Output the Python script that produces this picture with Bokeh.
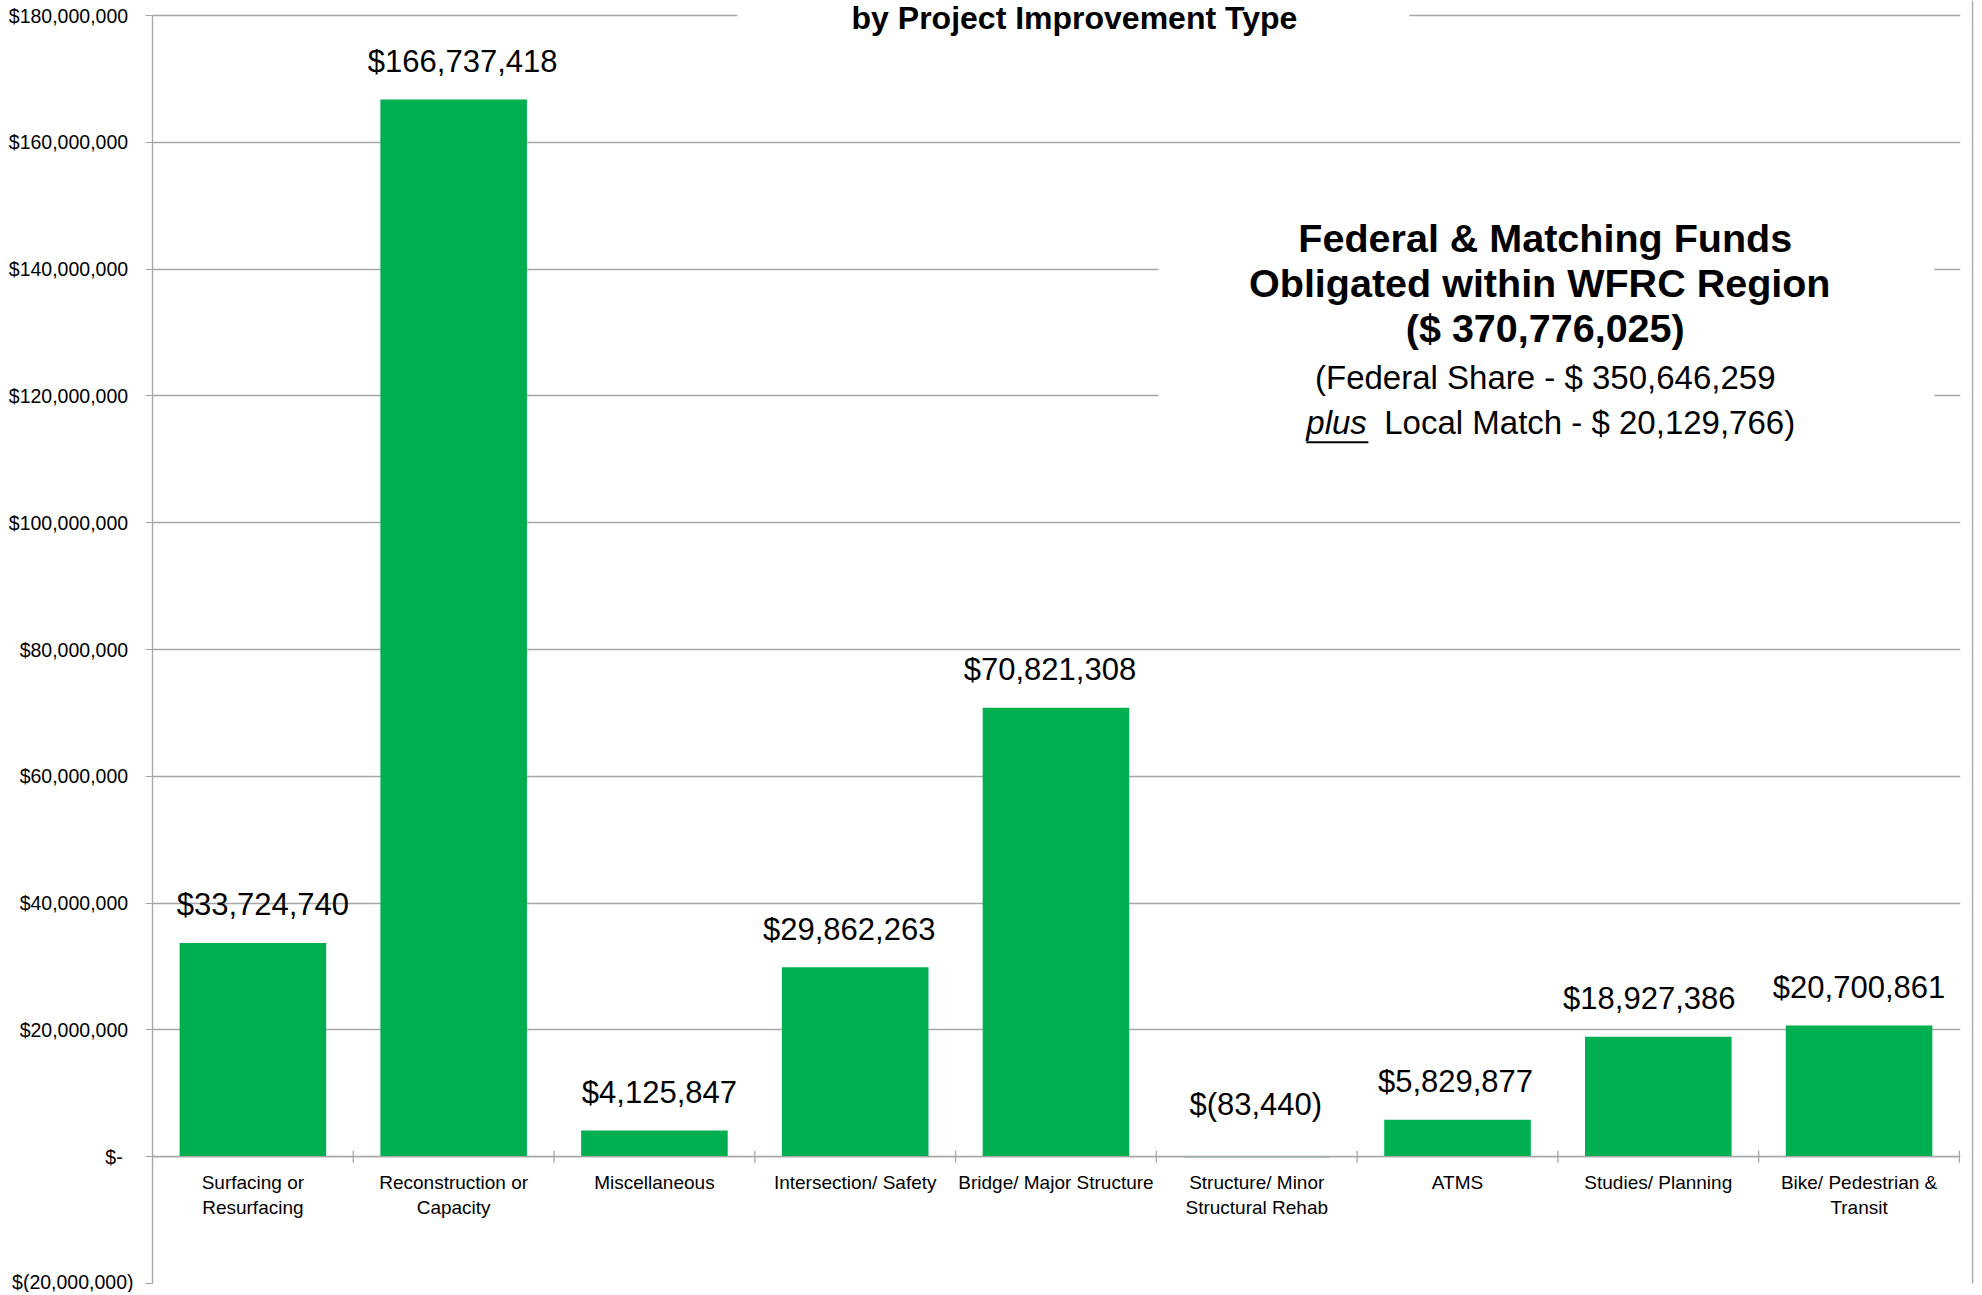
import numpy as np
from bokeh.plotting import figure
from bokeh.models import Range1d, FixedTicker, ColumnDataSource, Span
from bokeh.core.properties import value
from bokeh.embed import file_html
from bokeh.resources import INLINE

# ---------------- data ----------------
categories = [
    "Surfacing or\nResurfacing",
    "Reconstruction or\nCapacity",
    "Miscellaneous",
    "Intersection/ Safety",
    "Bridge/ Major Structure",
    "Structure/ Minor\nStructural Rehab",
    "ATMS",
    "Studies/ Planning",
    "Bike/ Pedestrian &\nTransit",
]
amounts = [33724740, 166737418, 4125847, 29862263, 70821308, -83440, 5829877, 18927386, 20700861]
y_ticks = [-20000000, 0, 20000000, 40000000, 60000000, 80000000,
           100000000, 120000000, 140000000, 160000000, 180000000]

title_text = "by Project Improvement Type"
note_bold = ["Federal & Matching Funds", "Obligated  within WFRC Region", "($ 370,776,025)"]
note_line4 = "(Federal Share - $ 350,646,259"
note_plus = "plus"
note_line5 = "Local Match - $ 20,129,766)"

# small horizontal nudges of the value labels (pixels), as placed in the original
label_nudge = [10, 9, 5, -6, -6, -1, -2, -9, 0]


def acct(v):
    if v > 0:
        return f"${v:,.0f}"
    if v < 0:
        return f"$({-v:,.0f})"
    return "$-"


def tick_label(v):
    if v > 0:
        return f"${v:,.0f}\u00a0"
    if v < 0:
        return f"$({-v:,.0f})"
    return "$-\u00a0\u00a0"


FONT = "Liberation Sans"
GRID = "#A6A6A6"
GREEN = "#00B050"

n = len(categories)
idx = np.arange(n)
src = ColumnDataSource(dict(
    x=idx + 0.5,
    top=amounts,
    label=[acct(v) for v in amounts],
    label_y=[max(v, 0) for v in amounts],
    label_dy=[-38 if v >= 0 else -52 for v in amounts],
    label_dx=label_nudge,
    cat=categories,
    zero=[0] * n,
))

# frame reaches the top of the canvas so the title near the top is not clipped
p = figure(width=1978, height=1292, output_backend="svg", toolbar_location=None,
           x_range=Range1d(0, 9.07), y_range=Range1d(-20e6, 182.366e6),
           min_border_left=152, min_border_right=5, min_border_top=0, min_border_bottom=9)
p.outline_line_color = None
p.background_fill_color = "white"
p.border_fill_color = "white"
p.xgrid.visible = False
p.ygrid.grid_line_color = GRID
p.ygrid.grid_line_width = 1.3
p.ygrid.ticker = FixedTicker(ticks=y_ticks, minor_ticks=[])

# y axis
p.yaxis.ticker = FixedTicker(ticks=y_ticks, minor_ticks=[])
p.yaxis.bounds = (y_ticks[0], y_ticks[-1])
p.yaxis.major_label_overrides = {t: tick_label(t) for t in y_ticks}
p.yaxis.axis_line_color = GRID
p.yaxis.axis_line_width = 1.3
p.yaxis.major_tick_line_color = GRID
p.yaxis.major_tick_out = 7
p.yaxis.major_tick_in = 0
p.yaxis.minor_tick_line_color = None
p.yaxis.major_label_standoff = 12
p.yaxis.major_label_text_font = FONT
p.yaxis.major_label_text_font_size = "19.5px"
p.yaxis.major_label_text_color = "black"

# category axis drawn at zero
p.xaxis.visible = False

# bars
p.vbar(x="x", top="top", bottom=0, width=0.73, fill_color=GREEN, line_color=None, source=src)

# zero line and category boundary ticks
p.segment(x0=[0], y0=[0], x1=[n], y1=[0], line_color=GRID, line_width=1.3)
p.scatter(x=list(range(n + 1)), y=[0] * (n + 1), marker="dash", size=12, angle=np.pi / 2,
          line_color=GRID, line_width=1.3)

# white masks over gridlines (title box, note box, right margin)
p.quad(left=[2.913, 5.01, 9.004], right=[6.26, 8.875, 9.3],
       bottom=[176e6, 102e6, -30e6], top=[190e6, 157e6, 200e6],
       fill_color="white", line_color=None)

# value labels
p.text(x="x", y="label_y", text="label", source=src, text_font=value(FONT),
       text_font_size="31px", text_align="center", text_baseline="alphabetic",
       x_offset="label_dx", y_offset="label_dy", text_color="black")

# category labels
p.text(x="x", y="zero", text="cat", source=src, text_font=value(FONT),
       text_font_size="19px", text_align="center", text_baseline="top",
       y_offset=15, text_line_height=1.19, text_color="black")

# title (lower part of the chart title)
p.text(x=[4.592], y=[178.08e6], text=[title_text], text_font=value(FONT),
       text_font_style="bold", text_font_size="32px", text_align="center",
       text_baseline="alphabetic", y_offset=-10, text_color="black")

# note block
p.text(x=[6.937] * 3, y=[142.11e6, 135.02e6, 127.92e6], text=note_bold, text_font=value(FONT),
       text_font_style="bold", text_font_size="39.5px", text_align="center",
       text_baseline="alphabetic", y_offset=-18, text_color="black")
p.text(x=[6.937], y=[120.5e6], text=[note_line4], text_font=value(FONT),
       text_font_size="33px", text_align="center", text_baseline="alphabetic",
       y_offset=-15, text_color="black")
p.text(x=[5.747], y=[113.4e6], text=[note_plus], text_font=value(FONT),
       text_font_style="italic", text_font_size="33px", text_align="left",
       text_baseline="alphabetic", y_offset=-15, text_color="black")
p.text(x=[6.135], y=[113.4e6], text=[note_line5], text_font=value(FONT),
       text_font_size="33px", text_align="left", text_baseline="alphabetic",
       y_offset=-15, text_color="black")
p.segment(x0=[5.747], y0=[112.7e6], x1=[6.056], y1=[112.7e6], line_color="black", line_width=2)

# chart-area border on the right
p.add_layout(Span(location=9.066, dimension="height", line_color=GRID, line_width=1.5))

open("out.html", "w").write(file_html(p, INLINE))
